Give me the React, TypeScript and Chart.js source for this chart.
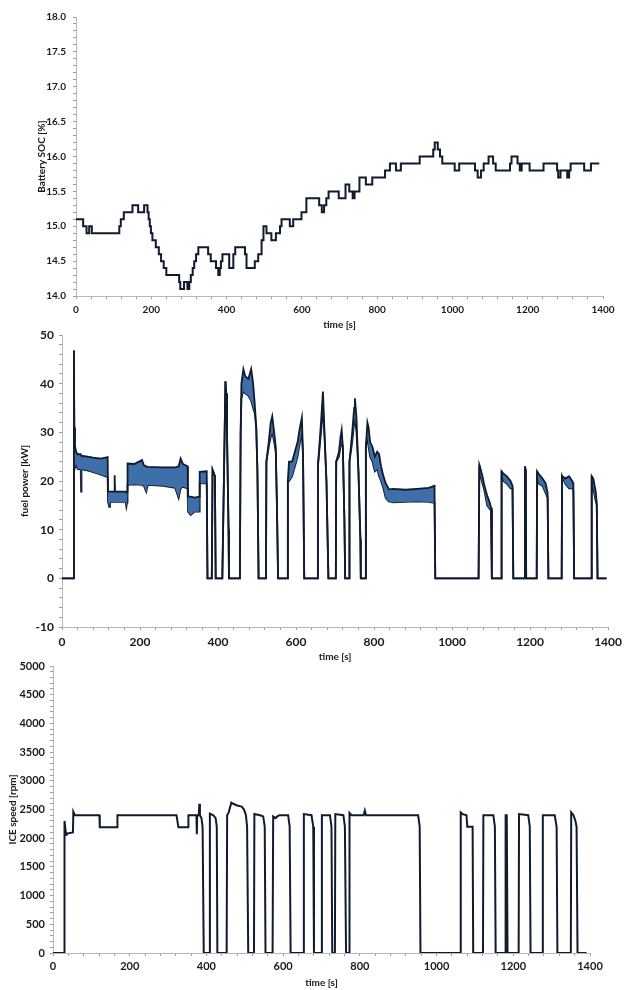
import React, { useEffect, useRef } from 'react';
import { Chart, registerables } from 'chart.js';

Chart.register(...registerables);

// ---------- data ----------
const socTime = [
  0, 19, 28, 35, 42, 115, 119, 127, 150, 165,
  181, 190, 193, 196, 199, 203, 212, 220, 226, 233,
  240, 274, 277, 287, 296, 301, 305, 310, 314, 319,
  325, 351, 358, 372, 378, 382, 385, 389, 407, 418,
  423, 449, 453, 475, 484, 493, 498, 506, 519, 531,
  542, 546, 568, 577, 599, 612, 646, 653, 659, 665,
  671, 698, 716, 726, 735, 740, 753, 770, 787, 821,
  834, 850, 863, 913, 949, 953, 961, 967, 973, 1006,
  1018, 1060, 1067, 1076, 1083, 1096, 1108, 1115, 1153, 1157,
  1173, 1179, 1184, 1205, 1242, 1278, 1281, 1287, 1305, 1310,
  1314, 1350, 1368, 1390,
];
const socValue = [
  15.1, 15.0, 14.9, 15.0, 14.9, 15.0, 15.1, 15.2, 15.3, 15.2,
  15.3, 15.2, 15.1, 15.0, 14.9, 14.8, 14.7, 14.6, 14.5, 14.4,
  14.3, 14.2, 14.1, 14.2, 14.1, 14.2, 14.3, 14.4, 14.5, 14.6,
  14.7, 14.6, 14.5, 14.4, 14.3, 14.4, 14.5, 14.6, 14.4, 14.6,
  14.7, 14.6, 14.4, 14.5, 14.6, 14.8, 15.0, 14.9, 14.8, 14.9,
  15.0, 15.1, 15.0, 15.1, 15.2, 15.4, 15.3, 15.2, 15.3, 15.4,
  15.5, 15.4, 15.6, 15.5, 15.4, 15.5, 15.7, 15.6, 15.7, 15.8,
  15.9, 15.8, 15.9, 16.0, 16.1, 16.2, 16.1, 16.0, 15.9, 15.8,
  15.9, 15.8, 15.7, 15.8, 15.9, 16.0, 15.9, 15.8, 15.9, 16.0,
  15.9, 15.8, 15.9, 15.8, 15.9, 15.8, 15.7, 15.8, 15.7, 15.8,
  15.9, 15.8, 15.9, 15.9,
];

const fuelTime = [
  0, 29, 30.5, 31.5, 33, 36, 40, 48, 49, 50,
  65, 80, 100, 117, 118, 121, 123, 134, 135, 136,
  163, 165, 167, 168, 185, 205, 210, 216, 220, 260,
  290, 299, 304, 310, 322, 323, 330, 340, 352, 353,
  371, 373, 384, 386, 392, 394, 411, 416, 419, 421,
  423, 427, 428, 456, 458, 460, 465, 470, 478, 485,
  490, 494, 498, 501, 504, 523, 524, 530, 535, 539,
  544, 548, 551, 554, 578, 579, 582, 590, 597, 604,
  610, 615, 618, 621, 655, 656, 664, 669, 673, 678,
  683, 702, 703, 710, 714, 717, 720, 724, 726, 736,
  737, 744, 749, 751, 755, 760, 765, 766, 777, 779,
  783, 786, 790, 796, 802, 808, 813, 818, 824, 830,
  838, 850, 880, 910, 940, 955, 957, 1068, 1070, 1073,
  1078, 1083, 1090, 1097, 1100, 1102, 1126, 1127, 1132, 1140,
  1150, 1155, 1157, 1186, 1187, 1189, 1190, 1217, 1218, 1222,
  1232, 1240, 1245, 1247, 1281, 1282, 1290, 1300, 1308, 1311,
  1313, 1357, 1358, 1362, 1368, 1371, 1373, 1396,
];
const fuelUpper = [
  0, 0, 46.8, 31, 27.4, 26, 25.5, 25.5, 25.3, 25.2,
  25, 24.8, 24.6, 24.9, 17.8, 17.8, 17.8, 17.8, 21.2, 17.8,
  17.8, 17.6, 17.8, 23.6, 23.5, 24.3, 23.2, 23, 22.9, 22.8,
  22.8, 23, 24.6, 23.5, 23, 16.8, 16.8, 16.6, 16.8, 21.9,
  22, 0, 0, 22.3, 21, 0, 0, 25, 40.5, 38,
  30, 10, 0, 0, 30, 40, 43, 41.5, 41, 43,
  40, 36, 31, 22, 0, 0, 24, 28, 32, 33.3,
  30, 27, 15, 0, 0, 20, 24, 24, 26, 28,
  31, 33, 25, 0, 0, 23, 32, 38.4, 30, 20,
  0, 0, 24, 26, 29, 30.5, 27, 12, 0, 0,
  24, 30, 35, 37, 33, 22, 8, 0, 0, 27,
  32, 31, 28, 27, 25, 26, 25.5, 23, 21, 19.5,
  18.3, 18.4, 18.2, 18.4, 18.6, 19, 0, 0, 23.3, 22.5,
  21, 19, 17, 15.5, 14.5, 0, 0, 22, 21.5, 21,
  20, 19, 0, 0, 23, 22, 0, 0, 22, 21.5,
  20.5, 19.5, 17.5, 0, 0, 21, 20.5, 21, 20, 19.5,
  0, 0, 21, 20.5, 18, 15.5, 0, 0,
];
const fuelLower = [
  0, 0, 46.8, 31, 22.7, 23.5, 22.5, 22.4, 17.8, 22.4,
  22.2, 21.8, 21.3, 20.8, 15.7, 14.7, 15.7, 15.7, 15.7, 15.7,
  15.7, 14.7, 15.6, 19.2, 19.3, 19.2, 19, 17.8, 19.2, 19,
  18.6, 16.5, 18.5, 18.8, 18.5, 13.7, 13, 13.7, 13.7, 19.5,
  19.5, 0, 0, 22.3, 21, 0, 0, 25, 40.5, 38,
  30, 10, 0, 0, 30, 37, 38.5, 38, 37.5, 36.5,
  35, 34, 31, 22, 0, 0, 24, 27, 29, 30,
  28, 26, 15, 0, 0, 20, 20, 21, 23, 25,
  28, 30, 25, 0, 0, 23, 30, 35, 29, 20,
  0, 0, 24, 25, 27, 28, 27, 12, 0, 0,
  24, 28, 32, 33, 30, 22, 8, 0, 0, 27,
  29, 27, 25, 24, 22, 22.5, 21, 20, 18.5, 16.5,
  15.8, 15.6, 15.7, 15.8, 15.7, 15.5, 0, 0, 23.3, 21,
  19.5, 18, 15, 14.2, 14, 0, 0, 22, 20, 19.5,
  18.5, 18.5, 0, 0, 23, 22, 0, 0, 22, 19.5,
  19, 17.5, 16.5, 0, 0, 21, 19.5, 18.5, 18.5, 18,
  0, 0, 21, 18.5, 16, 15, 0, 0,
];

const iceTime = [
  0, 29.5, 30, 34, 36, 52, 53, 57, 121, 122,
  167, 168, 322, 327, 352, 353, 374, 375, 376, 380,
  381.5, 383, 387, 390, 393, 407, 409, 418, 424, 427,
  428.5, 452.7, 454, 458, 465, 470, 480, 492, 498, 503,
  506, 509, 524, 525, 540, 548, 552, 554, 572.5, 574,
  580, 585, 590, 613, 617, 619.5, 652.6, 654, 674, 678.5,
  680.4, 700, 701, 722, 726, 728, 735, 736, 757, 761,
  764, 772, 773, 778, 810, 813, 816, 952, 956, 958,
  1062, 1063, 1068, 1078, 1080, 1094, 1095.5, 1121, 1122, 1148,
  1152, 1154, 1179.5, 1180, 1183, 1185, 1214, 1215, 1239, 1243,
  1245, 1276, 1277, 1308, 1313, 1315, 1350, 1351, 1357, 1362,
  1365, 1367.5, 1391,
];
const iceSpeed = [
  0, 0, 2300, 2060, 2080, 2100, 2460, 2400, 2400, 2190,
  2190, 2400, 2400, 2190, 2190, 2400, 2400, 2070, 2400, 2400,
  2600, 2400, 2350, 2200, 0, 0, 2430, 2400, 2350, 2200,
  0, 0, 2400, 2450, 2620, 2600, 2570, 2550, 2500, 2400,
  2200, 0, 0, 2420, 2400, 2380, 2200, 0, 0, 2380,
  2350, 2380, 2400, 2400, 2200, 0, 0, 2420, 2400, 2200,
  0, 0, 2400, 2400, 2200, 0, 0, 2420, 2400, 2200,
  0, 0, 2440, 2400, 2400, 2480, 2400, 2400, 2200, 0,
  0, 2450, 2420, 2400, 2200, 2200, 0, 0, 2400, 2400,
  2200, 0, 0, 2400, 2400, 0, 0, 2420, 2400, 2200,
  0, 0, 2400, 2400, 2200, 0, 0, 2450, 2400, 2300,
  2200, 0, 0,
];

// ---------- styling ----------
const FONT = "Lato, 'Open Sans', sans-serif";
const TEXT = '#1a1a1a';
const LINE = '#0f1b2e';
const BAND = '#3f6fa9';
const AXIS = '#b8b8b8';
const TICK = '#9c9c9c';

const pts = (xs: number[], ys: number[]) => xs.map((x, i) => ({ x, y: ys[i] }));

function xAxis(o: { height: number; size: number; pad: number; titleBottom: number }) {
  return {
    type: 'linear',
    min: 0,
    max: 1400,
    afterFit: (s: any) => {
      s.height = o.height;
    },
    ticks: {
      stepSize: 40,
      autoSkip: false,
      maxRotation: 0,
      padding: o.pad,
      color: TEXT,
      font: { family: FONT, size: o.size, weight: 'bold' },
      callback: (v: number) => (Math.round(v) % 200 === 0 ? String(v) : ''),
    },
    grid: { drawOnChartArea: false, drawTicks: true, tickLength: 3, color: TICK },
    border: { display: true, color: AXIS, width: 1 },
    title: {
      display: true,
      text: 'time [s]',
      color: TEXT,
      font: { family: FONT, size: 10, weight: 'bold' },
      padding: { top: 0, bottom: o.titleBottom },
    },
  };
}

function yAxis(o: {
  min: number;
  max: number;
  minor: number;
  major: number;
  width: number;
  size: number;
  pad: number;
  title: string;
  titleTop: number;
  decimals: number;
}) {
  return {
    type: 'linear',
    min: o.min,
    max: o.max,
    afterFit: (s: any) => {
      s.width = o.width;
    },
    ticks: {
      stepSize: o.minor,
      autoSkip: false,
      padding: o.pad,
      color: TEXT,
      font: { family: FONT, size: o.size, weight: 'bold' },
      callback: (v: number) => {
        const r = v / o.major;
        return Math.abs(r - Math.round(r)) < 1e-6 ? v.toFixed(o.decimals) : '';
      },
    },
    grid: { drawOnChartArea: false, drawTicks: true, tickLength: 3, color: TICK },
    border: { display: true, color: AXIS, width: 1 },
    title: {
      display: true,
      text: o.title,
      color: TEXT,
      font: { family: FONT, size: 10, weight: 'bold' },
      padding: { top: o.titleTop, bottom: 0 },
    },
  };
}

function baseOptions(padding: any, x: any, y: any) {
  return {
    responsive: false,
    maintainAspectRatio: false,
    animation: false,
    events: [],
    layout: { padding },
    plugins: { legend: { display: false }, tooltip: { enabled: false } },
    scales: { x, y },
  };
}

function ChartCanvas(props: { top: number; height: number; build: () => any }) {
  const ref = useRef<HTMLCanvasElement | null>(null);
  useEffect(() => {
    if (!ref.current) return;
    const chart = new Chart(ref.current, props.build());
    return () => chart.destroy();
  }, []);
  return (
    <canvas
      ref={ref}
      width={627}
      height={props.height}
      style={{ position: 'absolute', left: 0, top: props.top, width: 627, height: props.height }}
    />
  );
}

const socConfig = () => ({
  type: 'line',
  data: {
    datasets: [
      {
        data: pts(socTime, socValue),
        stepped: true,
        borderColor: LINE,
        borderWidth: 2,
        pointRadius: 0,
        fill: false,
      },
    ],
  },
  options: baseOptions(
    { top: 17, right: 24, bottom: 0, left: 0 },
    xAxis({ height: 39, size: 10, pad: 5, titleBottom: 4 }),
    yAxis({ min: 14, max: 18, minor: 0.1, major: 0.5, width: 76, size: 10, pad: 7, title: 'Battery SOC [%]', titleTop: 36, decimals: 1 })
  ),
});

const fuelConfig = () => ({
  type: 'line',
  data: {
    datasets: [
      {
        data: pts(fuelTime, fuelUpper),
        borderColor: LINE,
        borderWidth: 1.8,
        backgroundColor: BAND,
        pointRadius: 0,
        fill: '+1',
        tension: 0,
      },
      {
        data: pts(fuelTime, fuelLower),
        borderColor: LINE,
        borderWidth: 1.8,
        pointRadius: 0,
        fill: false,
        tension: 0,
      },
    ],
  },
  options: baseOptions(
    { top: 15, right: 17, bottom: 0, left: 0 },
    xAxis({ height: 38, size: 12, pad: 5, titleBottom: 2 }),
    yAxis({ min: -10, max: 50, minor: 2, major: 10, width: 62, size: 12, pad: 5, title: 'fuel power [kW]', titleTop: 19, decimals: 0 })
  ),
});

const iceConfig = () => ({
  type: 'line',
  data: {
    datasets: [
      {
        data: pts(iceTime, iceSpeed),
        borderColor: LINE,
        borderWidth: 2,
        pointRadius: 0,
        fill: false,
        tension: 0,
      },
    ],
  },
  options: baseOptions(
    { top: 16, right: 37, bottom: 0, left: 0 },
    xAxis({ height: 37, size: 11, pad: 4, titleBottom: 1 }),
    yAxis({ min: 0, max: 5000, minor: 100, major: 500, width: 53, size: 11, pad: 5, title: 'ICE speed [rpm]', titleTop: 7, decimals: 0 })
  ),
});

export default function App() {
  return (
    <div style={{ position: 'absolute', left: 0, top: 0, width: 627, height: 990, background: '#ffffff', overflow: 'hidden' }}>
      <ChartCanvas top={0} height={335} build={socConfig} />
      <ChartCanvas top={320} height={345} build={fuelConfig} />
      <ChartCanvas top={650} height={340} build={iceConfig} />
    </div>
  );
}
